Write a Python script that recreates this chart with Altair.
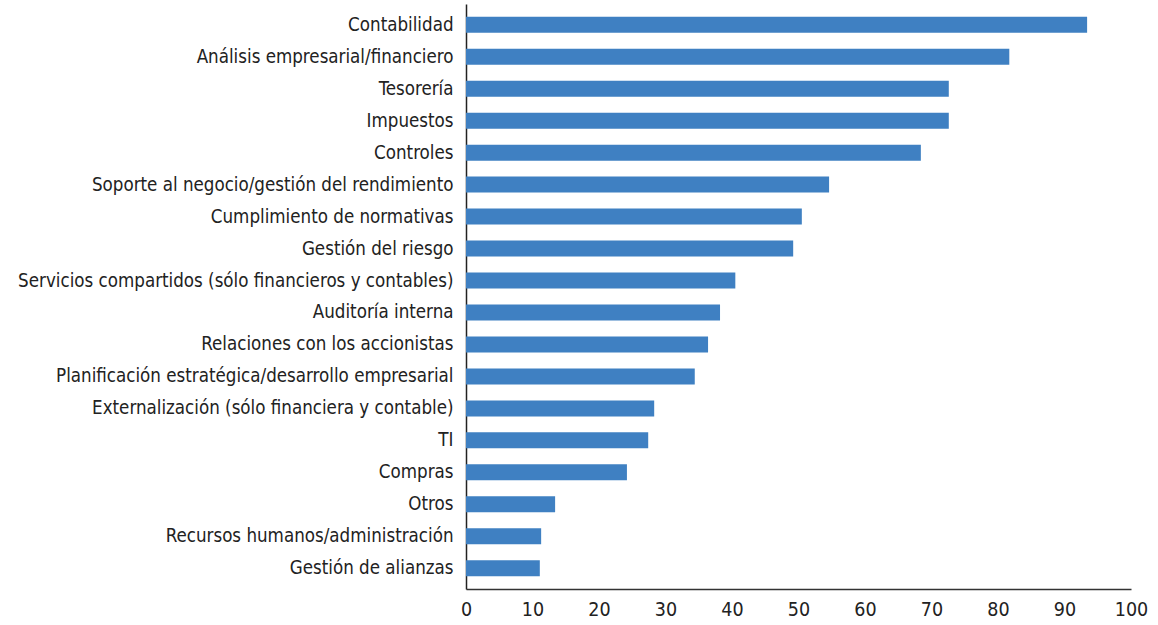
import altair as alt
import pandas as pd

categories = [
    "Contabilidad",
    "Análisis empresarial/financiero",
    "Tesorería",
    "Impuestos",
    "Controles",
    "Soporte al negocio/gestión del rendimiento",
    "Cumplimiento de normativas",
    "Gestión del riesgo",
    "Servicios compartidos (sólo financieros y contables)",
    "Auditoría interna",
    "Relaciones con los accionistas",
    "Planificación estratégica/desarrollo empresarial",
    "Externalización (sólo financiera y contable)",
    "TI",
    "Compras",
    "Otros",
    "Recursos humanos/administración",
    "Gestión de alianzas",
]
values = [93.4, 81.7, 72.6, 72.6, 68.4, 54.6, 50.5, 49.2, 40.5, 38.2,
          36.4, 34.4, 28.3, 27.4, 24.2, 13.4, 11.3, 11.1]
x_ticks = [0, 10, 20, 30, 40, 50, 60, 70, 80, 90, 100]

df = pd.DataFrame({"cat": categories, "val": values})

FONT = "DejaVu Sans Condensed, Liberation Sans Narrow, sans-serif"

chart = alt.Chart(df).mark_bar(color="#3f80c2").encode(
    x=alt.X("val:Q",
            scale=alt.Scale(domain=[0, 100], nice=False),
            axis=alt.Axis(values=x_ticks, title=None, grid=False, ticks=False,
                          domainColor="#333333", domainWidth=1.5,
                          labelFont=FONT, labelFontSize=19.5, labelColor="#222222",
                          labelPadding=11, labelFlush=False)),
    y=alt.Y("cat:N", sort=categories,
            scale=alt.Scale(paddingInner=0.5, paddingOuter=0.4),
            axis=alt.Axis(title=None, ticks=False, domainColor="#222222", domainWidth=1.5,
                          labelFont=FONT, labelFontSize=18.6, labelColor="#222222",
                          labelPadding=13, labelLimit=600)),
).properties(
    width=665, height=585,
    autosize=alt.AutoSizeParams(type="none"),
    padding={"left": 466, "top": 4, "right": 27, "bottom": 36},
).configure(background="white").configure_view(strokeWidth=0, stroke="transparent")

chart.save("out.html", embed_options={"renderer": "svg", "actions": False})
